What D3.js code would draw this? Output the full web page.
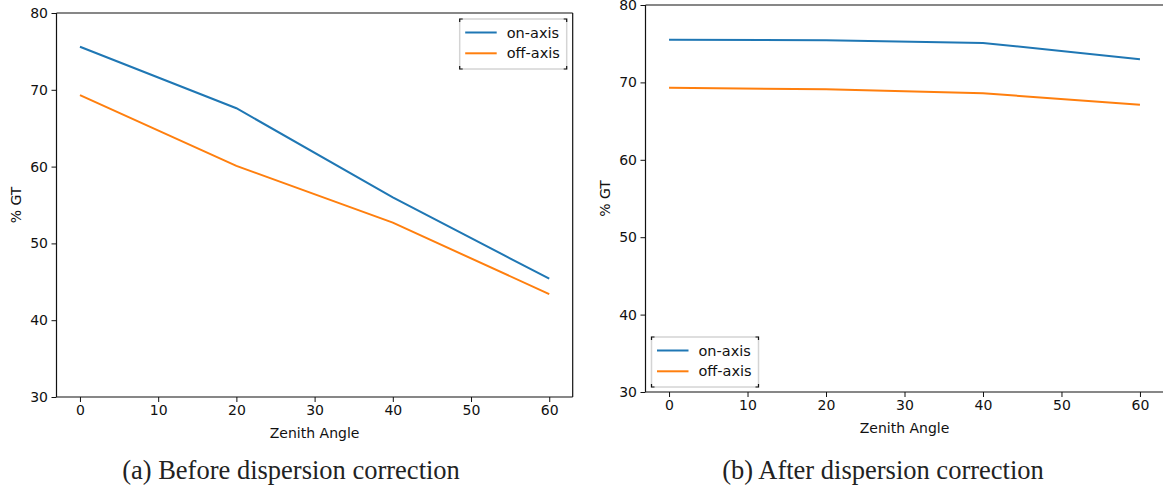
<!DOCTYPE html>
<html>
<head>
<meta charset="utf-8">
<script src="https://cdn.jsdelivr.net/npm/d3@7"></script>
<style>
	body { margin: 0; background: #fff; }
	svg { display: block; }
	.tick text { font-family: "DejaVu Sans", sans-serif; font-size: 14px; fill: #111; }
	.axisLabel { font-family: "DejaVu Sans", sans-serif; font-size: 14px; fill: #111; }
	.legendText { font-family: "DejaVu Sans", sans-serif; font-size: 14.5px; fill: #111; }
	.caption { font-family: "Liberation Serif", "DejaVu Serif", serif; font-size: 26.5px; fill: #222; }
</style>
</head>
<body>
<div id="chart"></div>
<script>
//---------------------------------------- Data ----------------------------------------

var zenithAngles = [0, 20, 40, 60];
var seriesNames = ["on-axis", "off-axis"];

//Before dispersion correction
var beforeOnAxis = [75.6, 67.6, 56.0, 45.4];
var beforeOffAxis = [69.3, 60.1, 52.7, 43.4];

//After dispersion correction
var afterOnAxis = [75.5, 75.45, 75.1, 73.0];
var afterOffAxis = [69.3, 69.1, 68.6, 67.1];

var xTicks = [0, 10, 20, 30, 40, 50, 60];
var yTicks = [30, 40, 50, 60, 70, 80];
var captions = ["(a) Before dispersion correction", "(b) After dispersion correction"];

var colors = ["#1f77b4", "#ff7f0e"];

//---------------------------------------- SVG ----------------------------------------

var svg = d3.select("#chart")
	.append("svg")
	.attr("width", 1163)
	.attr("height", 489);

var panels = [
	{ on: beforeOnAxis, off: beforeOffAxis, caption: captions[0],
	  left: 56.5, right: 572.7, top: 13, bottom: 397, legend: "top", capX: 291, rightSpine: true },
	{ on: afterOnAxis, off: afterOffAxis, caption: captions[1],
	  left: 645.5, right: 1163.5, top: 5, bottom: 392, legend: "bottom", capX: 883, rightSpine: false }
];

panels.forEach(drawPanel);

function drawPanel(p) {
	var x = d3.scaleLinear().domain([-3, 63]).range([p.left, p.right]);
	var y = d3.scaleLinear().domain([30, 80]).range([p.bottom, p.top]);

	var g = svg.append("g");

	//Axes
	g.append("g")
		.attr("transform", "translate(0," + p.bottom + ")")
		.call(d3.axisBottom(x).tickValues(xTicks).tickSize(5).tickPadding(3.5).tickSizeOuter(0))
		.call(function(a) { a.select(".domain").remove(); });

	g.append("g")
		.attr("transform", "translate(" + p.left + ",0)")
		.call(d3.axisLeft(y).tickValues(yTicks).tickSize(5).tickPadding(3.5).tickSizeOuter(0))
		.call(function(a) { a.select(".domain").remove(); });

	g.selectAll(".tick line").attr("stroke", "#111");

	//Spines
	var spines = g.append("g").attr("stroke", "#111").attr("stroke-width", 1.2).attr("fill", "none");
	spines.append("line").attr("x1", p.left).attr("x2", p.right).attr("y1", p.top).attr("y2", p.top);
	spines.append("line").attr("x1", p.left).attr("x2", p.right).attr("y1", p.bottom).attr("y2", p.bottom);
	spines.append("line").attr("x1", p.left).attr("x2", p.left).attr("y1", p.top).attr("y2", p.bottom);
	if (p.rightSpine) {
		spines.append("line").attr("x1", p.right).attr("x2", p.right).attr("y1", p.top).attr("y2", p.bottom);
	}

	//Lines
	var line = d3.line()
		.x(function(d, i) { return x(zenithAngles[i]); })
		.y(function(d) { return y(d); });

	[p.on, p.off].forEach(function(vals, i) {
		g.append("path")
			.datum(vals)
			.attr("fill", "none")
			.attr("stroke", colors[i])
			.attr("stroke-width", 2)
			.attr("d", line);
	});

	//Axis labels
	g.append("text")
		.attr("class", "axisLabel")
		.attr("x", (p.left + p.right) / 2)
		.attr("y", p.bottom + 41)
		.attr("text-anchor", "middle")
		.text("Zenith Angle");

	g.append("text")
		.attr("class", "axisLabel")
		.attr("transform", "translate(" + (p.left - 36) + "," + ((p.top + p.bottom) / 2) + ") rotate(-90)")
		.attr("text-anchor", "middle")
		.text("% GT");

	//Legend
	var lw = 107, lh = 50;
	var lx, ly;
	if (p.legend === "top") { lx = p.right - 6 - lw; ly = p.top + 6; }
	else { lx = p.left + 6; ly = p.bottom - 5 - lh; }

	var leg = g.append("g").attr("transform", "translate(" + lx + "," + ly + ")");
	leg.append("rect")
		.attr("width", lw).attr("height", lh)
		.attr("fill", "#fff")
		.attr("stroke", "#d4d4d4")
		.attr("stroke-width", 1.5);
	//corner marks
	[[0, 0, 1, 1], [lw, 0, -1, 1], [0, lh, 1, -1], [lw, lh, -1, -1]].forEach(function(c) {
		leg.append("path")
			.attr("d", "M" + (c[0] + 3 * c[2]) + "," + c[1] + "H" + c[0] + "V" + (c[1] + 3 * c[3]))
			.attr("fill", "none")
			.attr("stroke", "#111")
			.attr("stroke-width", 1.2);
	});

	seriesNames.forEach(function(name, i) {
		var yy = 13.5 + i * 20.8;
		leg.append("line")
			.attr("x1", 5.5).attr("x2", 37)
			.attr("y1", yy).attr("y2", yy)
			.attr("stroke", colors[i])
			.attr("stroke-width", 2);
		leg.append("text")
			.attr("class", "legendText")
			.attr("x", 47)
			.attr("y", yy)
			.attr("dy", "0.35em")
			.text(name);
	});

	//Caption
	svg.append("text")
		.attr("class", "caption")
		.attr("x", p.capX)
		.attr("y", 479)
		.attr("text-anchor", "middle")
		.text(p.caption);
}
</script>
</body>
</html>
